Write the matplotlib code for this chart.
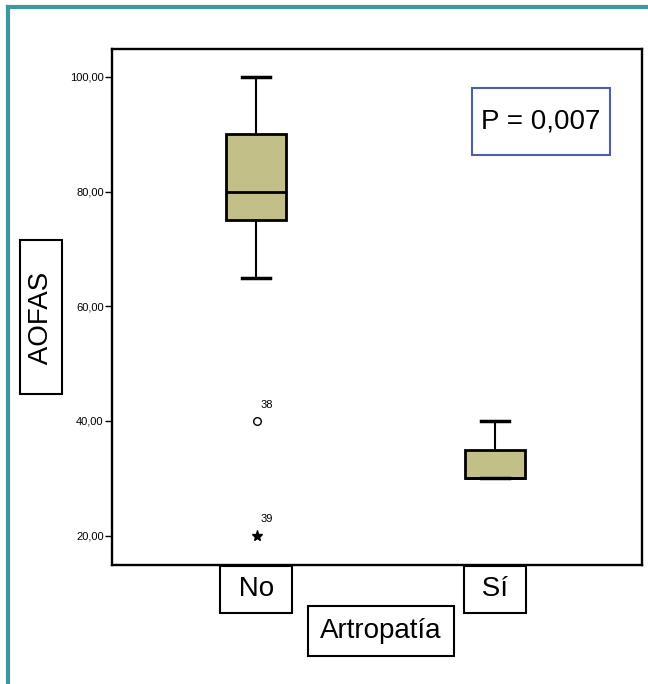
import matplotlib.pyplot as plt
from matplotlib.lines import Line2D
from matplotlib.patches import Rectangle

# box statistics
groups = ['No', 'Sí']
whislo = [65, 30]
q1 = [75, 30]
med = [80, 30]
q3 = [90, 35]
whishi = [100, 40]
# outliers of the "No" group: (value, case id, marker)
out_vals = [40, 20]
out_ids = ['38', '39']
out_marks = ['o', '*']
yticks = [20, 40, 60, 80, 100]

plt.rcParams['font.family'] = ['Liberation Sans', 'DejaVu Sans']

fig = plt.figure(figsize=(6.48, 6.84), dpi=100)
ax = fig.add_axes([0.1728, 0.174, 0.8179, 0.754])

stats = []
for i, g in enumerate(groups):
    stats.append({'label': g, 'whislo': whislo[i], 'q1': q1[i], 'med': med[i],
                  'q3': q3[i], 'whishi': whishi[i], 'fliers': []})

ax.bxp(stats, positions=[1, 2], widths=0.255, patch_artist=True, showfliers=False,
       boxprops=dict(facecolor='#c2bf88', edgecolor='black', linewidth=2),
       medianprops=dict(color='black', linewidth=2),
       whiskerprops=dict(color='black', linewidth=1.5),
       capprops=dict(color='black', linewidth=2.5),
       capwidths=0.12)

for v, lab, m in zip(out_vals, out_ids, out_marks):
    if m == 'o':
        ax.plot(1.005, v, marker='o', ms=5.5, mfc='white', mec='black', mew=1)
    else:
        ax.plot(1.005, v, marker='*', ms=8, color='black')
    ax.text(1.02, v + 2.0, lab, fontsize=8, va='bottom', ha='left')

ax.set_xlim(0.3975, 2.615)
ax.set_ylim(14.9, 104.8)
ax.set_yticks(yticks)
ax.set_yticklabels([f'{t},00' for t in yticks], fontsize=8)
ax.tick_params(axis='y', length=5, width=1, pad=1)
ax.set_xticks([1, 2])
ax.set_xticklabels([f' {g} ' for g in groups], fontsize=20,
                   bbox=dict(boxstyle='square,pad=0.38', fc='white', ec='black', lw=1.5))
ax.tick_params(axis='x', length=0, pad=8)
for s in ax.spines.values():
    s.set_linewidth(1.7)

ax.set_xlabel('Artropatía', fontsize=20, va='center',
              bbox=dict(boxstyle='square,pad=0.43', fc='white', ec='black', lw=1.5))
ax.xaxis.set_label_coords(0.5075, -0.128)
ax.set_ylabel('   AOFAS   ', fontsize=20, va='center', ha='center',
              bbox=dict(boxstyle='square,pad=0.3', fc='white', ec='black', lw=1.5))
ax.yaxis.set_label_coords(-0.134, 0.4806)

# p-value box
ax.add_patch(Rectangle((0.679, 0.7946), 0.261, 0.1298, transform=ax.transAxes,
                       fc='white', ec='#4a5fb0', lw=1.5, zorder=3))
ax.text(0.8094, 0.8595, 'P = 0,007', transform=ax.transAxes, fontsize=20,
        ha='center', va='center', zorder=4)

# teal frame (top and left edges)
fig.add_artist(Line2D([0.0125, 1.0], [0.9898, 0.9898], color='#3d9a9c', lw=3,
                      transform=fig.transFigure))
fig.add_artist(Line2D([0.0125, 0.0125], [0.0, 0.9898], color='#3d9a9c', lw=3,
                      transform=fig.transFigure))

fig.savefig('out.png', dpi=100)
